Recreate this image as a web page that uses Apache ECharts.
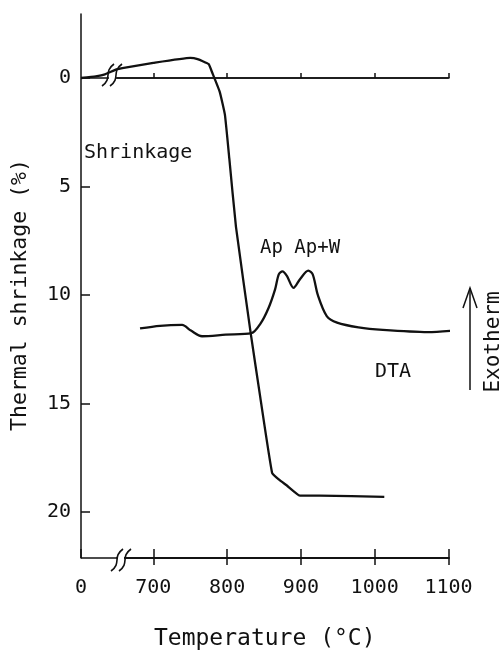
<!DOCTYPE html>
<html><head><meta charset="utf-8">
<script src="https://cdn.jsdelivr.net/npm/echarts@6.0.0/dist/echarts.min.js"></script>
<style>html,body{margin:0;padding:0;background:#fff}#c{width:504px;height:650px}</style>
</head><body><div id="c"></div>
<script>
// ---- tick labels ----
const xTicks = [0, 700, 800, 900, 1000, 1100];
const yTicks = [0, 5, 10, 15, 20];
// ---- Shrinkage curve: temperature (°C) / thermal shrinkage (%) ----
const shrinkTemp = [0, 270, 440, 650, 660, 700, 750, 760, 775, 780, 790, 797, 803, 812, 832, 845, 861, 870, 881, 899, 925, 1013];
const shrinkVal  = [0, -0.08, -0.17, -0.4, -0.47, -0.7, -0.93, -0.87, -0.64, -0.23, 0.64, 1.69, 3.72, 6.86, 11.77, 14.73, 18.2, 18.5, 18.78, 19.25, 19.25, 19.3];
// ---- DTA curve (arbitrary units on the same scale) ----
const dtaTemp = [682, 709, 739, 751, 766, 798, 833, 845, 856, 865, 870, 875, 881, 890, 899, 910, 916, 923, 935, 949, 978, 1011, 1072, 1106];
const dtaVal  = [11.54, 11.42, 11.38, 11.64, 11.90, 11.83, 11.76, 11.33, 10.61, 9.74, 9.05, 8.91, 9.12, 9.67, 9.26, 8.88, 9.05, 10.01, 10.97, 11.27, 11.49, 11.61, 11.71, 11.64];

const FONT = 'DejaVu Sans Mono';
const INK = '#111';
const Y_MIN = -2.95, Y_MAX = 22.12;
const lineStyle = {color: INK, width: 1.5};
const xBreaks = [{start: 0, end: 650, gap: 48}];

const chart = echarts.init(document.getElementById('c'), null, {renderer: 'canvas'});
const xCommon = {
  type: 'value', min: 0, max: 1100,
  breaks: xBreaks,
  breakArea: {show: false},
  splitLine: {show: false}
};
const fmt = v => String(v);
const option = {
  animation: false,
  backgroundColor: '#fff',
  grid: {left: 81, right: 55.5, top: 14, bottom: 92, containLabel: false, outerBoundsMode: 'none'},
  xAxis: [
    Object.assign({}, xCommon, {
      position: 'bottom',
      axisLine: {onZero: false, lineStyle: lineStyle},
      axisTick: {inside: true, length: 9, customValues: xTicks, lineStyle: lineStyle},
      axisLabel: {customValues: xTicks, formatter: fmt, margin: 20, fontSize: 20, fontFamily: FONT, color: INK},
      name: 'Temperature (°C)', nameLocation: 'middle', nameGap: 70,
      nameTextStyle: {fontSize: 23, fontFamily: FONT, color: INK}
    }),
    Object.assign({}, xCommon, {
      position: 'top',
      axisLine: {onZero: true, lineStyle: lineStyle},
      axisTick: {inside: false, length: 5, customValues: xTicks.slice(1), lineStyle: lineStyle},
      axisLabel: {show: false}
    }),
    Object.assign({}, xCommon, {
      position: 'bottom',
      axisLine: {onZero: true, lineStyle: lineStyle},
      axisTick: {inside: false, length: 7, customValues: xTicks.slice(1), lineStyle: lineStyle},
      axisLabel: {show: false}
    })
  ],
  yAxis: {
    type: 'value', inverse: true, min: Y_MIN, max: Y_MAX,
    axisLine: {show: true, onZero: false, lineStyle: lineStyle},
    axisTick: {show: true, inside: true, length: 9, customValues: yTicks, lineStyle: lineStyle},
    axisLabel: {customValues: yTicks, margin: 10, fontSize: 20, fontFamily: FONT, color: INK},
    splitLine: {show: false},
    name: 'Thermal shrinkage (%)', nameLocation: 'middle', nameGap: 50, nameRotate: 90,
    nameTextStyle: {fontSize: 21.5, fontFamily: FONT, color: INK, padding: [0, 18, 0, 0]}
  },
  series: [
    {
      name: 'Shrinkage', type: 'line', xAxisIndex: 0, yAxisIndex: 0,
      data: shrinkTemp.map((t, i) => [t, shrinkVal[i]]),
      symbol: 'none', smooth: 0.12, lineStyle: {color: INK, width: 2.3}, z: 5,
      markLine: {
        silent: true, symbol: ['none', 'none'], label: {show: false},
        lineStyle: {color: INK, width: 1.5, type: 'solid'},
        data: [{yAxis: 0}, {yAxis: Y_MAX}]
      }
    },
    {
      name: 'DTA', type: 'line', xAxisIndex: 0, yAxisIndex: 0,
      data: dtaTemp.map((t, i) => [t, dtaVal[i]]),
      symbol: 'none', smooth: 0.3, clip: false, lineStyle: {color: INK, width: 2.3}, z: 5
    }
  ]
};
chart.setOption(option);

// annotations and axis-break marks
const y0 = chart.convertToPixel({yAxisIndex: 0}, 0);
const rect = chart.getModel().getComponent('grid').coordinateSystem.getRect();
const yBottom = rect.y + rect.height;
function sMark(cx, cy) {
  return {
    type: 'bezierCurve', z: 101,
    shape: {x1: cx - 6, y1: cy + 11, x2: cx + 6, y2: cy - 11, cpx1: cx + 5, cpy1: cy + 3, cpx2: cx - 5, cpy2: cy - 3},
    style: {fill: null, stroke: INK, lineWidth: 1.6}
  };
}
function txt(s, x, y, size) {
  return {
    type: 'text', z: 102, x: x, y: y,
    style: {text: s, font: `${size}px "${FONT}"`, fill: INK, verticalAlign: 'middle', align: 'left'}
  };
}
chart.setOption({
  graphic: [
    {type: 'rect', z: 100, shape: {x: 109, y: y0 - 3, width: 6, height: 6}, style: {fill: '#fff'}},
    sMark(108, y0 - 3), sMark(116, y0 - 3),
    {type: 'rect', z: 100, shape: {x: 118, y: yBottom - 3, width: 6, height: 6}, style: {fill: '#fff'}},
    sMark(117, yBottom + 2), sMark(125, yBottom + 2),
    txt('Shrinkage', 84, 153, 20),
    txt('Ap Ap+W', 260, 248, 19),
    txt('DTA', 375, 372, 20),
    {type: 'line', z: 102, shape: {x1: 470, y1: 390, x2: 470, y2: 288}, style: {stroke: INK, lineWidth: 1.5}},
    {type: 'polyline', z: 102, shape: {points: [[463, 308], [470, 288], [477, 308]]}, style: {stroke: INK, lineWidth: 1.5, fill: null}},
    {type: 'text', z: 102, x: 494, y: 342, rotation: Math.PI / 2,
      style: {text: 'Exotherm', font: `21px "${FONT}"`, fill: INK, align: 'center', verticalAlign: 'middle'}}
  ]
});
</script></body></html>
